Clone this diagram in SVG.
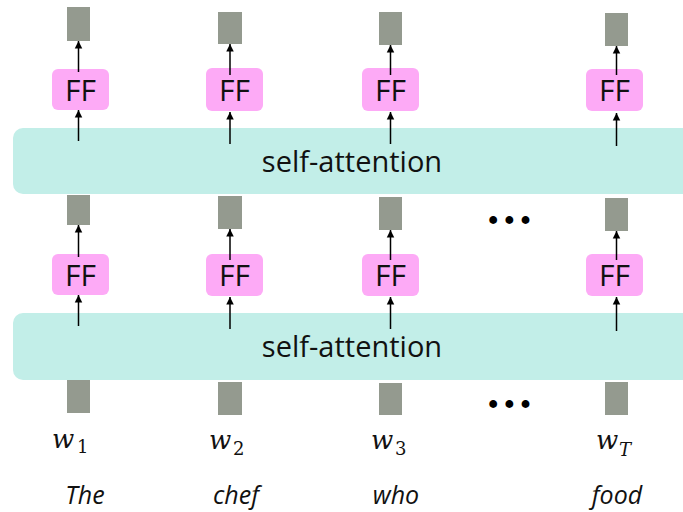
<svg xmlns="http://www.w3.org/2000/svg" width="683" height="512" viewBox="0 0 683 512">
  <style>
    .vec { fill: #949a8f; }
    .ff rect { fill: #fdaaf6; }
    .ff text { font-family: "Open Sans", "Liberation Sans", sans-serif; font-size: 30px; fill: #111; text-anchor: middle; }
    .band rect { fill: #c2eee8; }
    .band text { font-family: "Open Sans", "Liberation Sans", sans-serif; font-size: 29px; fill: #111; text-anchor: middle; }
    .arrow { stroke: #000; stroke-width: 1.5; fill: none; marker-end: url(#head); }
    .math { font-family: "DejaVu Serif", "Liberation Serif", serif; font-style: italic; font-size: 26px; fill: #111; }
    .sub { font-family: "DejaVu Serif", "Liberation Serif", serif; font-size: 18px; fill: #111; }
    .word { font-family: "Open Sans", "Liberation Sans", sans-serif; font-style: italic; font-size: 25px; fill: #111; text-anchor: middle; }
    .dots { font-family: "Liberation Serif", serif; font-style: italic; font-weight: bold; font-size: 48px; fill: #000; text-anchor: middle; }
  </style>
  <defs>
    <marker id="head" viewBox="0 0 10 10" refX="10" refY="5" markerWidth="5" markerHeight="6" markerUnits="strokeWidth" orient="auto">
      <path d="M0,0 L10,5 L0,10 z" fill="#000"/>
    </marker>
  </defs>

  <!-- attention layers -->
  <g id="attn-top" class="band">
    <rect x="13" y="128" width="690" height="66" rx="10"/>
    <text x="352" y="172">self-attention</text>
  </g>
  <g id="attn-bottom" class="band">
    <rect x="13" y="313" width="690" height="67" rx="10"/>
    <text x="352" y="357">self-attention</text>
  </g>

  <!-- output vectors -->
  <g id="out-1"><rect class="vec" x="67" y="7" width="23" height="34"/></g>
  <g id="out-2"><rect class="vec" x="218" y="12" width="24" height="32"/></g>
  <g id="out-3"><rect class="vec" x="379" y="12" width="23" height="33"/></g>
  <g id="out-T"><rect class="vec" x="605" y="13" width="23" height="33"/></g>

  <!-- hidden vectors -->
  <g id="hid-1"><rect class="vec" x="67" y="195" width="23" height="30"/></g>
  <g id="hid-2"><rect class="vec" x="218" y="196" width="24" height="33"/></g>
  <g id="hid-3"><rect class="vec" x="379" y="197" width="23" height="33"/></g>
  <g id="hid-T"><rect class="vec" x="605" y="198" width="23" height="33"/></g>

  <!-- input vectors -->
  <g id="in-1"><rect class="vec" x="67" y="380" width="23" height="33"/></g>
  <g id="in-2"><rect class="vec" x="218" y="382" width="24" height="33"/></g>
  <g id="in-3"><rect class="vec" x="379" y="383" width="23" height="32"/></g>
  <g id="in-T"><rect class="vec" x="605" y="382" width="23" height="33"/></g>

  <!-- feed-forward blocks, upper layer -->
  <g id="ff2-1" class="ff"><rect x="52" y="69" width="57" height="41" rx="6"/><text x="80.5" y="101">FF</text></g>
  <g id="ff2-2" class="ff"><rect x="206" y="68" width="57" height="43" rx="6"/><text x="234.5" y="101">FF</text></g>
  <g id="ff2-3" class="ff"><rect x="362" y="68" width="57" height="43" rx="6"/><text x="390.5" y="101">FF</text></g>
  <g id="ff2-T" class="ff"><rect x="586" y="69" width="57" height="42" rx="6"/><text x="614.5" y="101">FF</text></g>

  <!-- feed-forward blocks, lower layer -->
  <g id="ff1-1" class="ff"><rect x="52" y="254" width="57" height="41" rx="6"/><text x="80.5" y="286">FF</text></g>
  <g id="ff1-2" class="ff"><rect x="206" y="254" width="57" height="42" rx="6"/><text x="234.5" y="286">FF</text></g>
  <g id="ff1-3" class="ff"><rect x="362" y="254" width="57" height="42" rx="6"/><text x="390.5" y="286">FF</text></g>
  <g id="ff1-T" class="ff"><rect x="586" y="254" width="57" height="42" rx="6"/><text x="614.5" y="286">FF</text></g>

  <!-- connectors -->
  <g id="connectors">
    <line class="arrow" x1="78.5" y1="72" x2="78.5" y2="41"/>
    <line class="arrow" x1="78.5" y1="141" x2="78.5" y2="110"/>
    <line class="arrow" x1="78.5" y1="257" x2="78.5" y2="225"/>
    <line class="arrow" x1="78.5" y1="326" x2="78.5" y2="295"/>

    <line class="arrow" x1="230" y1="75" x2="230" y2="44"/>
    <line class="arrow" x1="230" y1="144" x2="230" y2="112"/>
    <line class="arrow" x1="230" y1="260" x2="230" y2="229"/>
    <line class="arrow" x1="230" y1="329" x2="230" y2="297"/>

    <line class="arrow" x1="390.5" y1="75" x2="390.5" y2="45"/>
    <line class="arrow" x1="390.5" y1="144" x2="390.5" y2="112"/>
    <line class="arrow" x1="390.5" y1="260" x2="390.5" y2="230"/>
    <line class="arrow" x1="390.5" y1="329" x2="390.5" y2="297"/>

    <line class="arrow" x1="616.5" y1="75" x2="616.5" y2="46"/>
    <line class="arrow" x1="616.5" y1="146" x2="616.5" y2="113"/>
    <line class="arrow" x1="616.5" y1="260" x2="616.5" y2="231"/>
    <line class="arrow" x1="616.5" y1="331" x2="616.5" y2="297"/>
  </g>

  <!-- ellipses -->
  <text class="dots" x="511" y="224">…</text>
  <text class="dots" x="511" y="408">…</text>

  <!-- token labels -->
  <g id="lbl-1"><text class="math" x="52" y="448">w</text><text class="sub" x="77" y="453">1</text><text class="word" x="85" y="504">The</text></g>
  <g id="lbl-2"><text class="math" x="209" y="449">w</text><text class="sub" x="233" y="455">2</text><text class="word" x="236" y="504">chef</text></g>
  <g id="lbl-3"><text class="math" x="371" y="449">w</text><text class="sub" x="395" y="455">3</text><text class="word" x="396" y="504">who</text></g>
  <g id="lbl-T"><text class="math" x="596" y="449">w</text><text class="sub" x="619" y="456" font-style="italic">T</text><text class="word" x="617" y="504">food</text></g>
</svg>
